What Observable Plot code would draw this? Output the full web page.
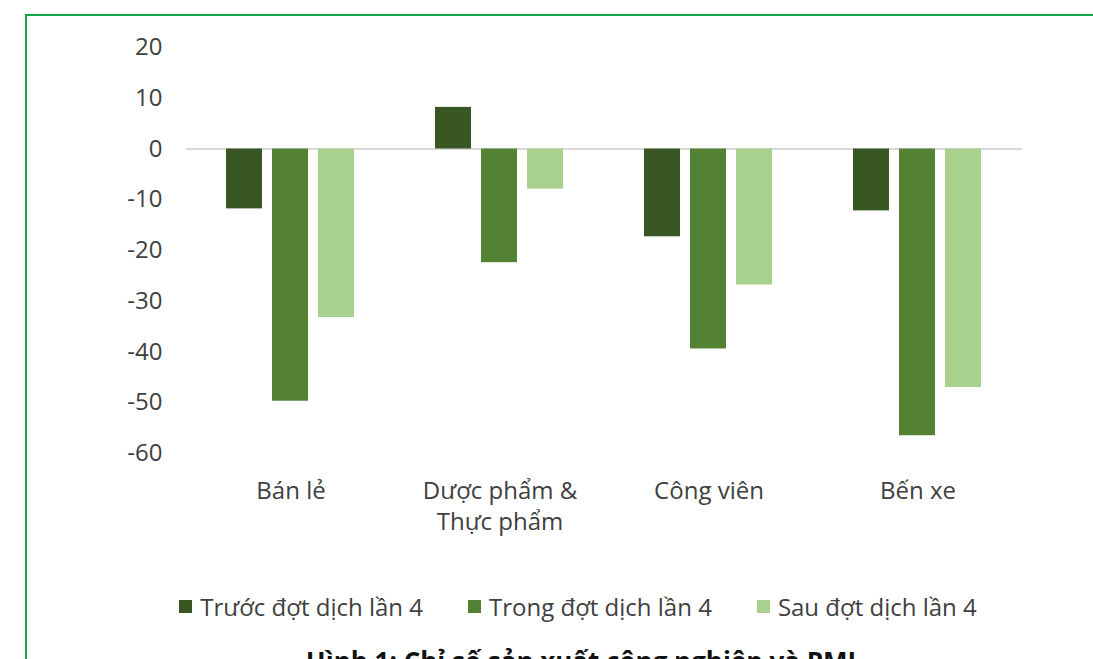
<!DOCTYPE html>
<html>
<head>
<meta charset="utf-8">
<script src="https://cdn.jsdelivr.net/npm/d3@7"></script>
<script src="https://cdn.jsdelivr.net/npm/@observablehq/plot@0.6"></script>
<style>
  html, body { margin: 0; padding: 0; width: 1093px; height: 659px; overflow: hidden; background: #fff; }
  #frame { position: absolute; left: 25px; top: 14px; width: 1200px; height: 800px; border: 2.5px solid #12a54a; box-sizing: border-box; }
  #chart { position: absolute; left: 0; top: 0; }
  #legend { position: absolute; top: 590px; left: 0; width: 1156px; display: flex; justify-content: center; gap: 45px;
            font-family: "Open Sans", sans-serif; font-size: 24px; color: #404040; }
  .item { display: flex; align-items: center; }
  .sw { width: 13px; height: 13px; margin-right: 8px; display: inline-block; }
  #title { position: absolute; top: 648px; left: 0; width: 1162px; text-align: center; font-family: "Open Sans", sans-serif;
           font-weight: bold; font-size: 26px; line-height: 1; color: #111; white-space: nowrap; }
</style>
</head>
<body>
<div id="frame"></div>
<div id="chart"></div>
<div id="legend"></div>
<div id="title">Hình 1: Chỉ số sản xuất công nghiệp và PMI</div>
<script>
const categories = ["Bán lẻ", "Dược phẩm &\nThực phẩm", "Công viên", "Bến xe"];
const series = ["Trước đợt dịch lần 4", "Trong đợt dịch lần 4", "Sau đợt dịch lần 4"];
const truoc = [-11.8, 8.2, -17.3, -12.2];
const trong = [-49.7, -22.4, -39.4, -56.5];
const sau = [-33.2, -7.9, -26.8, -47.0];
const yTicks = [20, 10, 0, -10, -20, -30, -40, -50, -60];
const colors = ["#385723", "#548235", "#a9d18e"];

const seriesValues = [truoc, trong, sau];
const data = [];
categories.forEach((c, i) => {
  series.forEach((s, j) => data.push({category: c, series: s, value: seriesValues[j][i]}));
});

const chart = Plot.plot({
  width: 1093,
  height: 560,
  marginLeft: 185,
  marginRight: 71,
  marginTop: 47,
  marginBottom: 107,
  style: {fontFamily: "Open Sans", fontSize: "24px", color: "#404040", background: "transparent"},
  fx: {domain: categories, padding: 0, label: null},
  x: {domain: series, paddingInner: 0.213, paddingOuter: 0.83, axis: null},
  y: {domain: [-60, 20], label: null},
  color: {domain: series, range: colors},
  marks: [
    Plot.axisY({ticks: yTicks, tickSize: 0, tickPadding: 24, tickFormat: d => String(d), label: null, fontSize: 24}),
    Plot.axisFx({anchor: "bottom", tickSize: 0, tickPadding: 23, label: null, lineHeight: 1.3, fontSize: 24}),
    Plot.ruleY([0], {stroke: "#d9d9d9", strokeWidth: 2}),
    Plot.barY(data, {fx: "category", x: "series", y: "value", fill: "series"})
  ]
});
document.getElementById("chart").appendChild(chart);

const legend = document.getElementById("legend");
series.forEach((s, j) => {
  const item = document.createElement("div");
  item.className = "item";
  const sw = document.createElement("span");
  sw.className = "sw";
  sw.style.background = colors[j];
  item.appendChild(sw);
  const t = document.createElement("span");
  t.textContent = s;
  item.appendChild(t);
  legend.appendChild(item);
});
</script>
</body>
</html>
